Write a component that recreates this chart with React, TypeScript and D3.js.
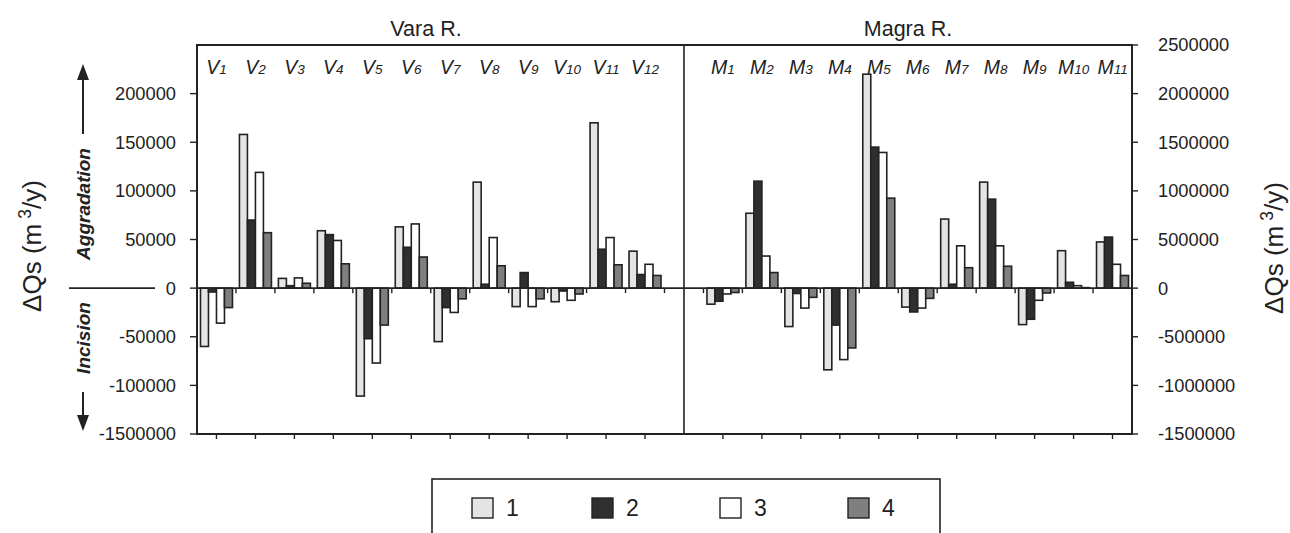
import React from "react";
import * as d3 from "d3";

// ---- data ----
const varaCats = ["V1","V2","V3","V4","V5","V6","V7","V8","V9","V10","V11","V12"];
const magraCats = ["M1","M2","M3","M4","M5","M6","M7","M8","M9","M10","M11"];
const seriesNames = ["1","2","3","4"];

const vara1 = [-60000, 158000, 10000, 59000, -111000, 63000, -55000, 109000, -19000, -14000, 170000, 38000];
const vara2 = [-4000, 70000, 2500, 55000, -52000, 42000, -20000, 4000, 16000, -3000, 40000, 14000];
const vara3 = [-36000, 119000, 10500, 49000, -77000, 66000, -25000, 52000, -19000, -12500, 52000, 24500];
const vara4 = [-20000, 57000, 5000, 25000, -38000, 32000, -11000, 23000, -11000, -6000, 24000, 13000];

const magra1 = [-165000, 770000, -395000, -840000, 2200000, -195000, 710000, 1090000, -375000, 385000, 475000];
const magra2 = [-135000, 1100000, -55000, -380000, 1450000, -245000, 40000, 915000, -320000, 60000, 525000];
const magra3 = [-60000, 330000, -205000, -735000, 1395000, -205000, 435000, 435000, -125000, 25000, 245000];
const magra4 = [-45000, 160000, -95000, -615000, 925000, -105000, 210000, 225000, -50000, 5000, 130000];

const leftTickValues = [-150000, -100000, -50000, 0, 50000, 100000, 150000, 200000];
const leftTickLabels = ["-1500000", "-100000", "-50000", "0", "50000", "100000", "150000", "200000"];
const rightTickValues = [-1500000, -1000000, -500000, 0, 500000, 1000000, 1500000, 2000000, 2500000];
const rightTickLabels = ["-1500000", "-1000000", "-500000", "0", "500000", "1000000", "1500000", "2000000", "2500000"];

const fills = ["#e4e4e4", "#2f2f2f", "#ffffff", "#7f7f7f"];
const FONT = "'Liberation Sans', Arial, Helvetica, sans-serif";
const INK = "#222222";

export default function App() {
  const W = 1290, H = 533;
  const left = 197, right = 1132, top = 45, bottom = 434;
  const GAP = "gap";
  const allCats = [...varaCats, GAP, ...magraCats];
  const x = d3.scaleBand<string>().domain(allCats).range([left, right]).padding(0);
  const yL = d3.scaleLinear().domain([-150000, 250000]).range([bottom, top]);
  const yR = d3.scaleLinear().domain([-1500000, 2500000]).range([bottom, top]);
  const bw = x.bandwidth();
  const inner = d3.scaleBand<string>().domain(seriesNames).range([-16, 16]).padding(0);
  const zeroY = yL(0);
  const divX = (x(GAP) as number) + bw / 2;

  const varaSeries = [vara1, vara2, vara3, vara4];
  const magraSeries = [magra1, magra2, magra3, magra4];

  const bars: JSX.Element[] = [];
  const addBars = (cats: string[], series: number[][], y: d3.ScaleLinear<number, number>, key: string) => {
    cats.forEach((c, ci) => {
      const cx = (x(c) as number) + bw / 2;
      series.forEach((s, si) => {
        const v = s[ci];
        const y0 = y(0), y1 = y(v);
        bars.push(
          <rect key={`${key}-${ci}-${si}`}
            x={cx + (inner(seriesNames[si]) as number)}
            y={Math.min(y0, y1)}
            width={inner.bandwidth()}
            height={Math.abs(y1 - y0)}
            fill={fills[si]} stroke={INK} strokeWidth={1.6} />
        );
      });
    });
  };
  addBars(varaCats, varaSeries, yL, "v");
  addBars(magraCats, magraSeries, yR, "m");

  const catLabel = (c: string) => {
    const letter = c[0];
    const num = c.slice(1);
    return (
      <text key={`lab-${c}`} x={(x(c) as number) + bw / 2} y={74} textAnchor="middle"
        fontFamily={FONT} fontStyle="italic" fill={INK}>
        <tspan fontSize={19.5}>{letter}</tspan>
        <tspan fontSize={13.5}>{num}</tspan>
      </text>
    );
  };

  const legendX = [472, 592, 720, 848];

  return (
    <svg width={W} height={H} style={{ position: "absolute", left: 0, top: 0, display: "block", background: "#fff" }}>
      <rect x={0} y={0} width={W} height={H} fill="#fff" />
      {/* titles */}
      <text x={426} y={36} textAnchor="middle" fontFamily={FONT} fontSize={21.5} fill={INK}>Vara R.</text>
      <text x={908} y={36} textAnchor="middle" fontFamily={FONT} fontSize={21.5} fill={INK}>Magra R.</text>

      {/* bars */}
      {bars}

      {/* zero line */}
      <line x1={left} x2={right} y1={zeroY} y2={zeroY} stroke={INK} strokeWidth={1.6} />
      {allCats.slice(1).map((c) => (
        <line key={`zt-${c}`} x1={x(c) as number} x2={x(c) as number} y1={zeroY} y2={zeroY + 5} stroke={INK} strokeWidth={1.4} />
      ))}

      {/* frame */}
      <rect x={left} y={top} width={right - left} height={bottom - top} fill="none" stroke={INK} strokeWidth={2} />
      <line x1={divX} x2={divX} y1={top} y2={bottom} stroke={INK} strokeWidth={1.6} />

      {/* bottom ticks */}
      {allCats.filter((c) => c !== GAP).map((c) => (
        <line key={`bt-${c}`} x1={(x(c) as number) + bw / 2} x2={(x(c) as number) + bw / 2} y1={bottom} y2={bottom + 5} stroke={INK} strokeWidth={1.4} />
      ))}

      {/* category labels */}
      {allCats.filter((c) => c !== GAP).map(catLabel)}

      {/* left axis */}
      {leftTickValues.map((v, i) => (
        <g key={`lt-${v}`}>
          <line x1={left - 7} x2={left} y1={yL(v)} y2={yL(v)} stroke={INK} strokeWidth={1.4} />
          <text x={176} y={yL(v)} dy="0.35em" textAnchor="end" fontFamily={FONT} fontSize={18.3} fill={INK}>{leftTickLabels[i]}</text>
        </g>
      ))}
      {/* right axis */}
      {rightTickValues.map((v, i) => (
        <g key={`rt-${v}`}>
          <line x1={right} x2={right + 6} y1={yR(v)} y2={yR(v)} stroke={INK} strokeWidth={1.4} />
          <text x={1158} y={yR(v)} dy="0.35em" textAnchor="start" fontFamily={FONT} fontSize={18.3} fill={INK}>{rightTickLabels[i]}</text>
        </g>
      ))}

      {/* axis titles */}
      <text transform={`translate(41,246) rotate(-90)`} textAnchor="middle" fontFamily={FONT} fontSize={26} fill={INK}>
        ΔQs (m<tspan fontSize={17.5} dy={-10} dx={5}>3</tspan><tspan dy={10}>/y)</tspan>
      </text>
      <text transform={`translate(1283,248) rotate(-90)`} textAnchor="middle" fontFamily={FONT} fontSize={26} fill={INK}>
        ΔQs (m<tspan fontSize={17.5} dy={-10} dx={5}>3</tspan><tspan dy={10}>/y)</tspan>
      </text>

      {/* aggradation / incision */}
      <line x1={69} x2={155} y1={zeroY} y2={zeroY} stroke={INK} strokeWidth={1.6} />
      <line x1={83} x2={83} y1={76} y2={134} stroke={INK} strokeWidth={2} />
      <polygon points="83,64 77,80 89,80" fill={INK} />
      <text transform={`translate(89.5,204) rotate(-90)`} textAnchor="middle" fontFamily={FONT} fontSize={19} fontStyle="italic" fontWeight="bold" fill={INK}>Aggradation</text>
      <text transform={`translate(89.5,338) rotate(-90)`} textAnchor="middle" fontFamily={FONT} fontSize={19} fontStyle="italic" fontWeight="bold" fill={INK}>Incision</text>
      <line x1={83} x2={83} y1={392} y2={420} stroke={INK} strokeWidth={2} />
      <polygon points="83,431 77,415 89,415" fill={INK} />

      {/* legend */}
      <rect x={432} y={479} width={508} height={80} fill="none" stroke={INK} strokeWidth={1.6} />
      {seriesNames.map((s, i) => (
        <g key={`lg-${s}`}>
          <rect x={legendX[i]} y={498} width={21} height={20} fill={fills[i]} stroke={INK} strokeWidth={1.4} />
          <text x={legendX[i] + 34} y={516} fontFamily={FONT} fontSize={23} fill={INK}>{s}</text>
        </g>
      ))}
    </svg>
  );
}
